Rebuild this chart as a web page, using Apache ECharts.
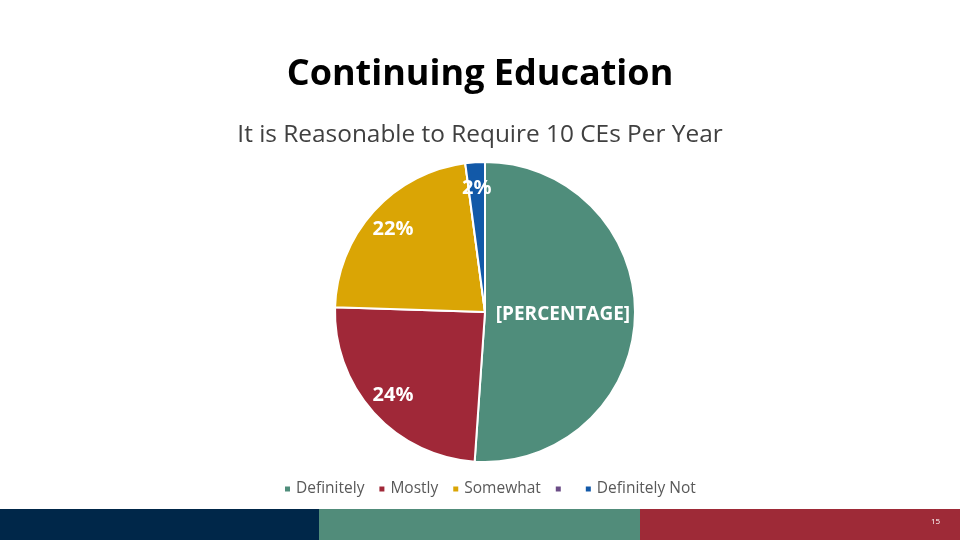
<!DOCTYPE html>
<html>
<head>
<meta charset="utf-8">
<script src="https://cdn.jsdelivr.net/npm/echarts@6/dist/echarts.min.js"></script>
<style>
html,body{margin:0;padding:0;background:#fff;}
#chart{width:960px;height:540px;}
</style>
</head>
<body>
<div id="chart"></div>
<script>
const categories = ['Definitely', 'Mostly', 'Somewhat', ' ', 'Definitely Not'];
const values = [51.1, 24.4, 22.4, 0, 2.1];
const colors = ['#4F8D7B', '#A02838', '#DAA505', '#6B4C86', '#1259A8'];
const pageNumber = '15';

const FONT = '"Open Sans", Lato, sans-serif';
const chart = echarts.init(document.getElementById('chart'));

const seriesData = categories.map((c, i) => ({ name: c, value: values[i], itemStyle: { color: colors[i] } }));

chart.setOption({
  animation: false,
  title: [
    { text: 'Continuing Education', left: 'center', top: 52,
      textStyle: { fontFamily: FONT, fontSize: 36, fontWeight: 'bold', color: '#000' } },
    { text: 'It is Reasonable to Require 10 CEs Per Year', left: 'center', top: 118,
      textStyle: { fontFamily: FONT, fontSize: 24.4, fontWeight: 'normal', color: '#404040' } }
  ],
  legend: {
    data: categories,
    bottom: 38,
    left: 278,
    icon: 'rect',
    itemWidth: 7,
    itemHeight: 7,
    itemGap: 13,
    textStyle: { fontFamily: FONT, fontSize: 15.5, color: '#595959' }
  },
  series: [
    {
      type: 'pie',
      center: [485, 312],
      radius: [0, 150],
      startAngle: 90,
      clockwise: true,
      data: seriesData,
      itemStyle: { borderColor: '#fff', borderWidth: 2 },
      labelLine: { show: false },
      label: {
        show: true,
        position: 'inside',
        fontFamily: FONT, fontSize: 19, fontWeight: 'bold', color: '#fff',
        formatter: p => p.dataIndex === 0 ? '[PERCENTAGE]' : ''
      }
    },
    {
      type: 'pie',
      center: [485, 312],
      radius: [92, 150],
      startAngle: 90,
      clockwise: true,
      silent: true,
      legendHoverLink: false,
      data: seriesData.map(d => ({ name: d.name, value: d.value, itemStyle: { color: 'transparent' } })),
      itemStyle: { borderWidth: 0 },
      labelLine: { show: false },
      label: {
        show: true,
        position: 'inside',
        fontFamily: FONT, fontSize: 20, fontWeight: 'bold', color: '#fff',
        formatter: p => (p.dataIndex === 0 || p.value === 0) ? '' : Math.round(p.percent) + '%'
      }
    }
  ],
  graphic: [
    { type: 'rect', left: 0, top: 509, shape: { width: 319, height: 31 }, style: { fill: '#002749' } },
    { type: 'rect', left: 319, top: 509, shape: { width: 321, height: 31 }, style: { fill: '#518C7A' } },
    { type: 'rect', left: 640, top: 509, shape: { width: 320, height: 31 }, style: { fill: '#9E2A37' } },
    { type: 'text', left: 931, top: 518, style: { text: pageNumber, fill: '#fff', font: '8px ' + FONT } }
  ]
});
</script>
</body>
</html>
